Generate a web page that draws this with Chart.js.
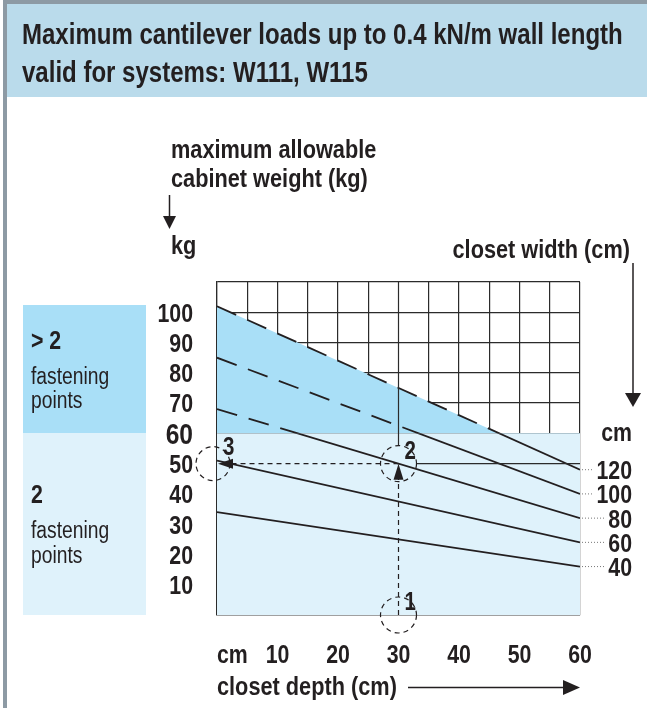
<!DOCTYPE html>
<html>
<head>
<meta charset="utf-8">
<script src="https://cdn.jsdelivr.net/npm/chart.js@4.4.0/dist/chart.umd.min.js"></script>
<style>
  html, body { margin: 0; padding: 0; background: #fff; }
  #wrap { position: relative; width: 647px; height: 708px; }
</style>
</head>
<body>
<div id="wrap"><canvas id="chartCanvas" width="647" height="708"></canvas></div>
<script>
// closet width lines (cm) with the allowed cabinet weight (kg) at depth 0 and depth 60 cm
const widths = [120, 100, 80, 60, 40];
const loadAtDepth0 = [102, 85, 68, 51, 34];
const loadAtDepth60 = [48, 40, 32, 24, 16];
const depthRange = [0, 60];
const twoPointLimit = [60, 60];   // above this more than 2 fastening points are needed
const depthTicks = [10, 20, 30, 40, 50, 60];
const weightTicks = [10, 20, 30, 40, 50, 60, 70, 80, 90, 100];
// worked example: 30 cm deep, 80 cm wide -> 50 kg
const exampleDepth = 30;
const exampleWeight = 50;

// no narrow face installed, so text is squeezed horizontally
const FONT = "'Liberation Sans', Arial, sans-serif";
const SQUEEZE = 0.82;
const INK = "#231f20";
const GRID = "#2b2b2b";
const DARK_BLUE = "#a9dff7";
const LIGHT_BLUE = "#dff2fb";

function pts(a, b) {
    return [{ x: depthRange[0], y: a }, { x: depthRange[1], y: b }];
}

const datasets = [];

// light band for 2 fastening points
datasets.push({
    data: pts(twoPointLimit[0], twoPointLimit[1]),
    borderWidth: 0,
    pointRadius: 0,
    fill: "origin",
    backgroundColor: LIGHT_BLUE,
    order: 5
});

widths.forEach((w, i) => {
    // dashed part above 60 kg
    datasets.push({
        label: w + " cm",
        part: "upper",
        data: pts(loadAtDepth0[i], loadAtDepth60[i]),
        borderColor: INK,
        borderWidth: 1.8,
        borderDash: [21, 12],
        pointRadius: 0,
        fill: i === 0 ? { target: { value: 60 }, above: DARK_BLUE, below: "rgba(0,0,0,0)" } : false,
        order: i === 0 ? 2 : 1
    });
    // solid part below 60 kg
    datasets.push({
        label: w + " cm",
        part: "lower",
        data: pts(loadAtDepth0[i], loadAtDepth60[i]),
        borderColor: INK,
        borderWidth: 1.8,
        pointRadius: 0,
        fill: false,
        order: 1
    });
});

const clipParts = {
    id: "clipParts",
    beforeDatasetDraw(chart, args) {
        const ds = chart.data.datasets[args.index];
        if (!ds.part) return;
        const ctx = chart.ctx;
        const a = chart.chartArea;
        const y60 = chart.scales.y.getPixelForValue(60);
        ctx.save();
        ctx.beginPath();
        if (ds.part === "upper") ctx.rect(a.left, a.top, a.width, y60 - a.top);
        else ctx.rect(a.left, y60, a.width, a.bottom - y60);
        ctx.clip();
    },
    afterDatasetDraw(chart, args) {
        if (chart.data.datasets[args.index].part) chart.ctx.restore();
    }
};

function txt(ctx, s, x, y, size, weight, align, base) {
    ctx.save();
    ctx.translate(x, y);
    ctx.scale(SQUEEZE, 1);
    ctx.font = weight + " " + size + "px " + FONT;
    ctx.fillStyle = INK;
    ctx.textAlign = align || "left";
    ctx.textBaseline = base || "alphabetic";
    ctx.fillText(s, 0, 0);
    ctx.restore();
}

function txtWidth(ctx, s, size, weight) {
    ctx.save();
    ctx.font = weight + " " + size + "px " + FONT;
    const w = ctx.measureText(s).width * SQUEEZE;
    ctx.restore();
    return w;
}

function tri(ctx, a, b, c) {
    ctx.beginPath();
    ctx.moveTo(a[0], a[1]);
    ctx.lineTo(b[0], b[1]);
    ctx.lineTo(c[0], c[1]);
    ctx.closePath();
    ctx.fillStyle = INK;
    ctx.fill();
}

function seg(ctx, x1, y1, x2, y2, width, color, dash) {
    ctx.save();
    ctx.beginPath();
    ctx.setLineDash(dash || []);
    ctx.lineWidth = width;
    ctx.strokeStyle = color;
    ctx.moveTo(x1, y1);
    ctx.lineTo(x2, y2);
    ctx.stroke();
    ctx.restore();
}

function ring(ctx, x, y, r) {
    ctx.save();
    ctx.beginPath();
    ctx.setLineDash([5, 4]);
    ctx.lineWidth = 1.2;
    ctx.strokeStyle = INK;
    ctx.arc(x, y, r, 0, Math.PI * 2);
    ctx.stroke();
    ctx.restore();
}

// frame, header and the fastening point boxes
const panel = {
    id: "panel",
    beforeDraw(chart) {
        const ctx = chart.ctx;
        ctx.save();
        ctx.fillStyle = "#fff";
        ctx.fillRect(0, 0, 647, 708);
        ctx.fillStyle = "#badbeb";
        ctx.fillRect(3, 0, 644, 97);
        ctx.fillStyle = "#8d9aa4";
        ctx.fillRect(3, 0, 644, 4);
        ctx.fillRect(3, 0, 4, 708);

        ctx.fillStyle = DARK_BLUE;
        ctx.fillRect(23, 305, 123, 128);
        ctx.fillStyle = LIGHT_BLUE;
        ctx.fillRect(23, 433, 123, 182);
        ctx.restore();

        txt(ctx, "Maximum cantilever loads up to 0.4 kN/m wall length", 22, 44, 29.3, "bold");
        txt(ctx, "valid for systems: W111, W115", 22, 82, 29.3, "bold");

        txt(ctx, "> 2", 31, 349, 26, "bold");
        txt(ctx, "fastening", 31, 384, 23.5, "normal");
        txt(ctx, "points", 31, 408, 23.5, "normal");
        txt(ctx, "2", 31, 503, 26, "bold");
        txt(ctx, "fastening", 31, 538, 23.5, "normal");
        txt(ctx, "points", 31, 563, 23.5, "normal");
    },
    afterDraw(chart) {
        const ctx = chart.ctx;
        const a = chart.chartArea;
        const xs = chart.scales.x;
        const ys = chart.scales.y;

        // tick labels from the axis scales
        weightTicks.forEach(v => {
            const size = v === 60 ? 30 : 26;
            txt(ctx, String(v), a.left - 24, ys.getPixelForValue(v) + size * 0.36, size, "bold", "right");
        });
        depthTicks.forEach(v => {
            txt(ctx, String(v), xs.getPixelForValue(v), 663, 26, "bold", "center");
        });
        txt(ctx, "cm", a.left, 663, 26, "bold");

        // axis captions
        txt(ctx, "maximum allowable", 171, 158, 26.5, "bold");
        txt(ctx, "cabinet weight (kg)", 171, 187, 26.5, "bold");
        seg(ctx, 169.5, 195, 169.5, 217, 1.5, INK);
        tri(ctx, [163, 216], [176, 216], [169.5, 229]);
        txt(ctx, "kg", 171, 254, 26.5, "bold");

        txt(ctx, "closet width (cm)", 630, 258, 26.5, "bold", "right");
        seg(ctx, 633, 263, 633, 394, 1.5, INK);
        tri(ctx, [625, 393], [641, 393], [633, 407]);
        txt(ctx, "cm", 632, 441, 26, "bold", "right");

        txt(ctx, "closet depth (cm)", a.left, 695, 26.5, "bold");
        seg(ctx, 408, 687.5, 565, 687.5, 1.5, INK);
        tri(ctx, [563, 680], [580, 687.5], [563, 695]);

        // width labels at the right end of each line
        widths.forEach((w, i) => {
            const py = ys.getPixelForValue(loadAtDepth60[i]);
            const tw = txtWidth(ctx, String(w), 26, "bold");
            seg(ctx, a.right + 2, py, 632 - tw - 3, py, 1, "#777", [1, 2]);
            txt(ctx, String(w), 632, py + 9.5, 26, "bold", "right");
        });

        // worked example
        const ex = xs.getPixelForValue(exampleDepth);
        const ey = ys.getPixelForValue(exampleWeight);
        const r = 18;
        seg(ctx, ex, a.top, ex, ey - r, 1.2, GRID);
        seg(ctx, ex + r, ey, a.right, ey, 1.2, GRID);
        seg(ctx, ex, a.bottom, ex, ey + 15, 1.2, INK, [5, 4]);
        tri(ctx, [ex - 5, ey + 16], [ex + 5, ey + 16], [ex, ey]);
        seg(ctx, ex, ey, a.left + 15, ey, 1.2, INK, [5, 4]);
        tri(ctx, [a.left + 16, ey - 5], [a.left + 16, ey + 5], [a.left + 1, ey]);

        ring(ctx, ex, a.bottom, r);
        ring(ctx, ex, ey, r);
        ring(ctx, a.left - 4, ey, 17);
        txt(ctx, "1", ex + 6, 610, 25, "bold");
        txt(ctx, "2", ex + 6, 459, 25, "bold");
        txt(ctx, "3", a.left + 6, 455, 25, "bold");
    }
};

const ctx = document.getElementById("chartCanvas").getContext("2d");

new Chart(ctx, {
    type: "line",
    data: { datasets: datasets },
    options: {
        responsive: false,
        animation: false,
        devicePixelRatio: 1,
        layout: { padding: { top: 282, right: 67, bottom: 0, left: 0 } },
        plugins: {
            legend: { display: false },
            tooltip: { enabled: false }
        },
        scales: {
            x: {
                type: "linear",
                min: 0,
                max: 60,
                z: 1,
                afterFit(s) { s.height = 93; },
                ticks: { stepSize: 5, autoSkip: false, display: false },
                grid: {
                    drawTicks: false,
                    lineWidth: 1.2,
                    color: c => c.tick && c.tick.value === exampleDepth ? "rgba(0,0,0,0)" : GRID
                },
                border: { color: GRID, width: 1.2 }
            },
            y: {
                type: "linear",
                min: 0,
                max: 110,
                z: 1,
                afterFit(s) { s.width = 217; },
                ticks: { stepSize: 10, autoSkip: false, display: false },
                grid: {
                    drawTicks: false,
                    lineWidth: 1.2,
                    color: c => c.tick && c.tick.value === exampleWeight ? "rgba(0,0,0,0)" : GRID
                },
                border: { color: GRID, width: 1.2 }
            }
        }
    },
    plugins: [clipParts, panel]
});
</script>
</body>
</html>
